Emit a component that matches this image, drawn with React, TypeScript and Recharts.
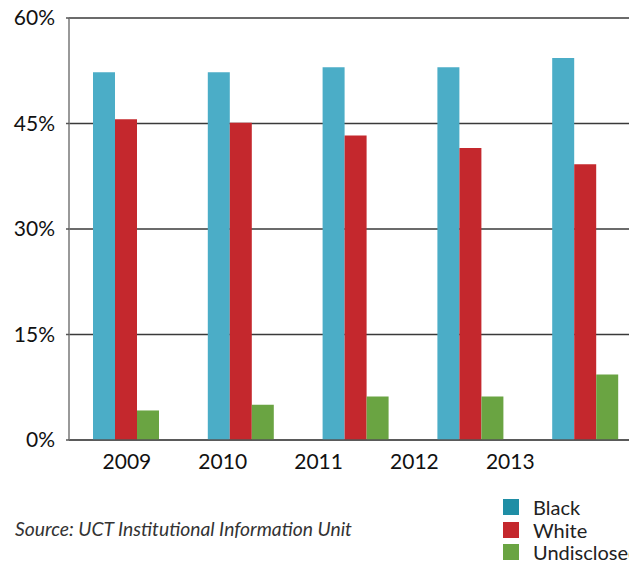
import React from 'react';
import { BarChart, Bar, XAxis, YAxis, CartesianGrid } from 'recharts';

const years = ['2009', '2010', '2011', '2012', '2013'];
const blackShare = [52.3, 52.3, 53.0, 53.0, 54.3];
const whiteShare = [45.6, 45.1, 43.3, 41.5, 39.2];
const undisclosedShare = [4.2, 5.0, 6.2, 6.2, 9.3];
const yTicks = [0, 15, 30, 45, 60];

const seriesNames = ['Black', 'White', 'Undisclosed'];
const seriesKeys = ['black', 'white', 'undisclosed'];
const barColors = ['#4badc7', '#c4282d', '#6aa442'];
const legendColors = ['#1f8ea5', '#c4282d', '#6aa442'];

const data = years.map((y, i) => ({
  year: y,
  yearNum: Number(y),
  black: blackShare[i],
  white: whiteShare[i],
  undisclosed: undisclosedShare[i],
}));

const font = 'Lato, "Open Sans", sans-serif';

const App = () => {
  return (
    <div style={{ position: 'absolute', left: 0, top: 0, width: 629, height: 562, overflow: 'hidden', background: '#fff', fontFamily: font }}>
      <BarChart
        width={660}
        height={480}
        data={data}
        margin={{ top: 18, right: 17, left: 0, bottom: 10 }}
        barCategoryGap={24}
        barGap={0}
      >
        <CartesianGrid horizontal vertical={false} stroke="#3a3a3a" strokeWidth={1.3} />
        <XAxis xAxisId="cat" dataKey="year" hide height={0} orientation="top" />
        {/* tick marks sit on the band edges */}
        <XAxis
          xAxisId="a_marks"
          type="number"
          dataKey="yearNum"
          domain={[2008.5, 2013.5]}
          ticks={[2008.5, 2009.5, 2010.5, 2011.5, 2012.5, 2013.5]}
          allowDataOverflow
          height={1}
          tick={false}
          tickSize={5}
          axisLine={{ stroke: '#555', strokeWidth: 1.5 }}
          tickLine={{ stroke: '#555', strokeWidth: 1.5 }}
        />
        {/* year labels are drawn on their own, narrower spacing */}
        <XAxis
          xAxisId="b_labels"
          type="number"
          dataKey="yearNum"
          domain={[2008.396, 2014.385]}
          ticks={[2009, 2010, 2011, 2012, 2013]}
          allowDataOverflow
          height={29}
          axisLine={false}
          tickLine={false}
          tickSize={0}
          tickMargin={13}
          tick={{ fill: '#111', fontSize: 21, fontFamily: font }}
        />
        <YAxis
          domain={[0, 60]}
          ticks={yTicks}
          tickFormatter={(v) => `${v}%`}
          width={69}
          tickSize={3}
          tickMargin={11}
          axisLine={{ stroke: '#777', strokeWidth: 1.5 }}
          tickLine={{ stroke: '#555', strokeWidth: 1.5 }}
          tick={{ fill: '#111', fontSize: 21, fontFamily: font }}
        />
        {seriesKeys.map((k, i) => (
          <Bar key={k} xAxisId="cat" dataKey={k} name={seriesNames[i]} fill={barColors[i]} isAnimationActive={false} />
        ))}
      </BarChart>

      <div style={{ position: 'absolute', left: 15, top: 517, fontSize: 19.3, fontStyle: 'italic', color: '#333', whiteSpace: 'nowrap' }}>
        Source: UCT Institutional Information Unit
      </div>

      <div style={{ position: 'absolute', left: 503, top: 496 }}>
        {seriesNames.map((n, i) => (
          <div key={n} style={{ display: 'flex', alignItems: 'center', height: 22.5, whiteSpace: 'nowrap' }}>
            <span style={{ width: 16, height: 16, background: legendColors[i], marginRight: 14, flex: 'none' }} />
            <span style={{ fontSize: 20, color: '#222' }}>{n}</span>
          </div>
        ))}
      </div>
    </div>
  );
};

export default App;
